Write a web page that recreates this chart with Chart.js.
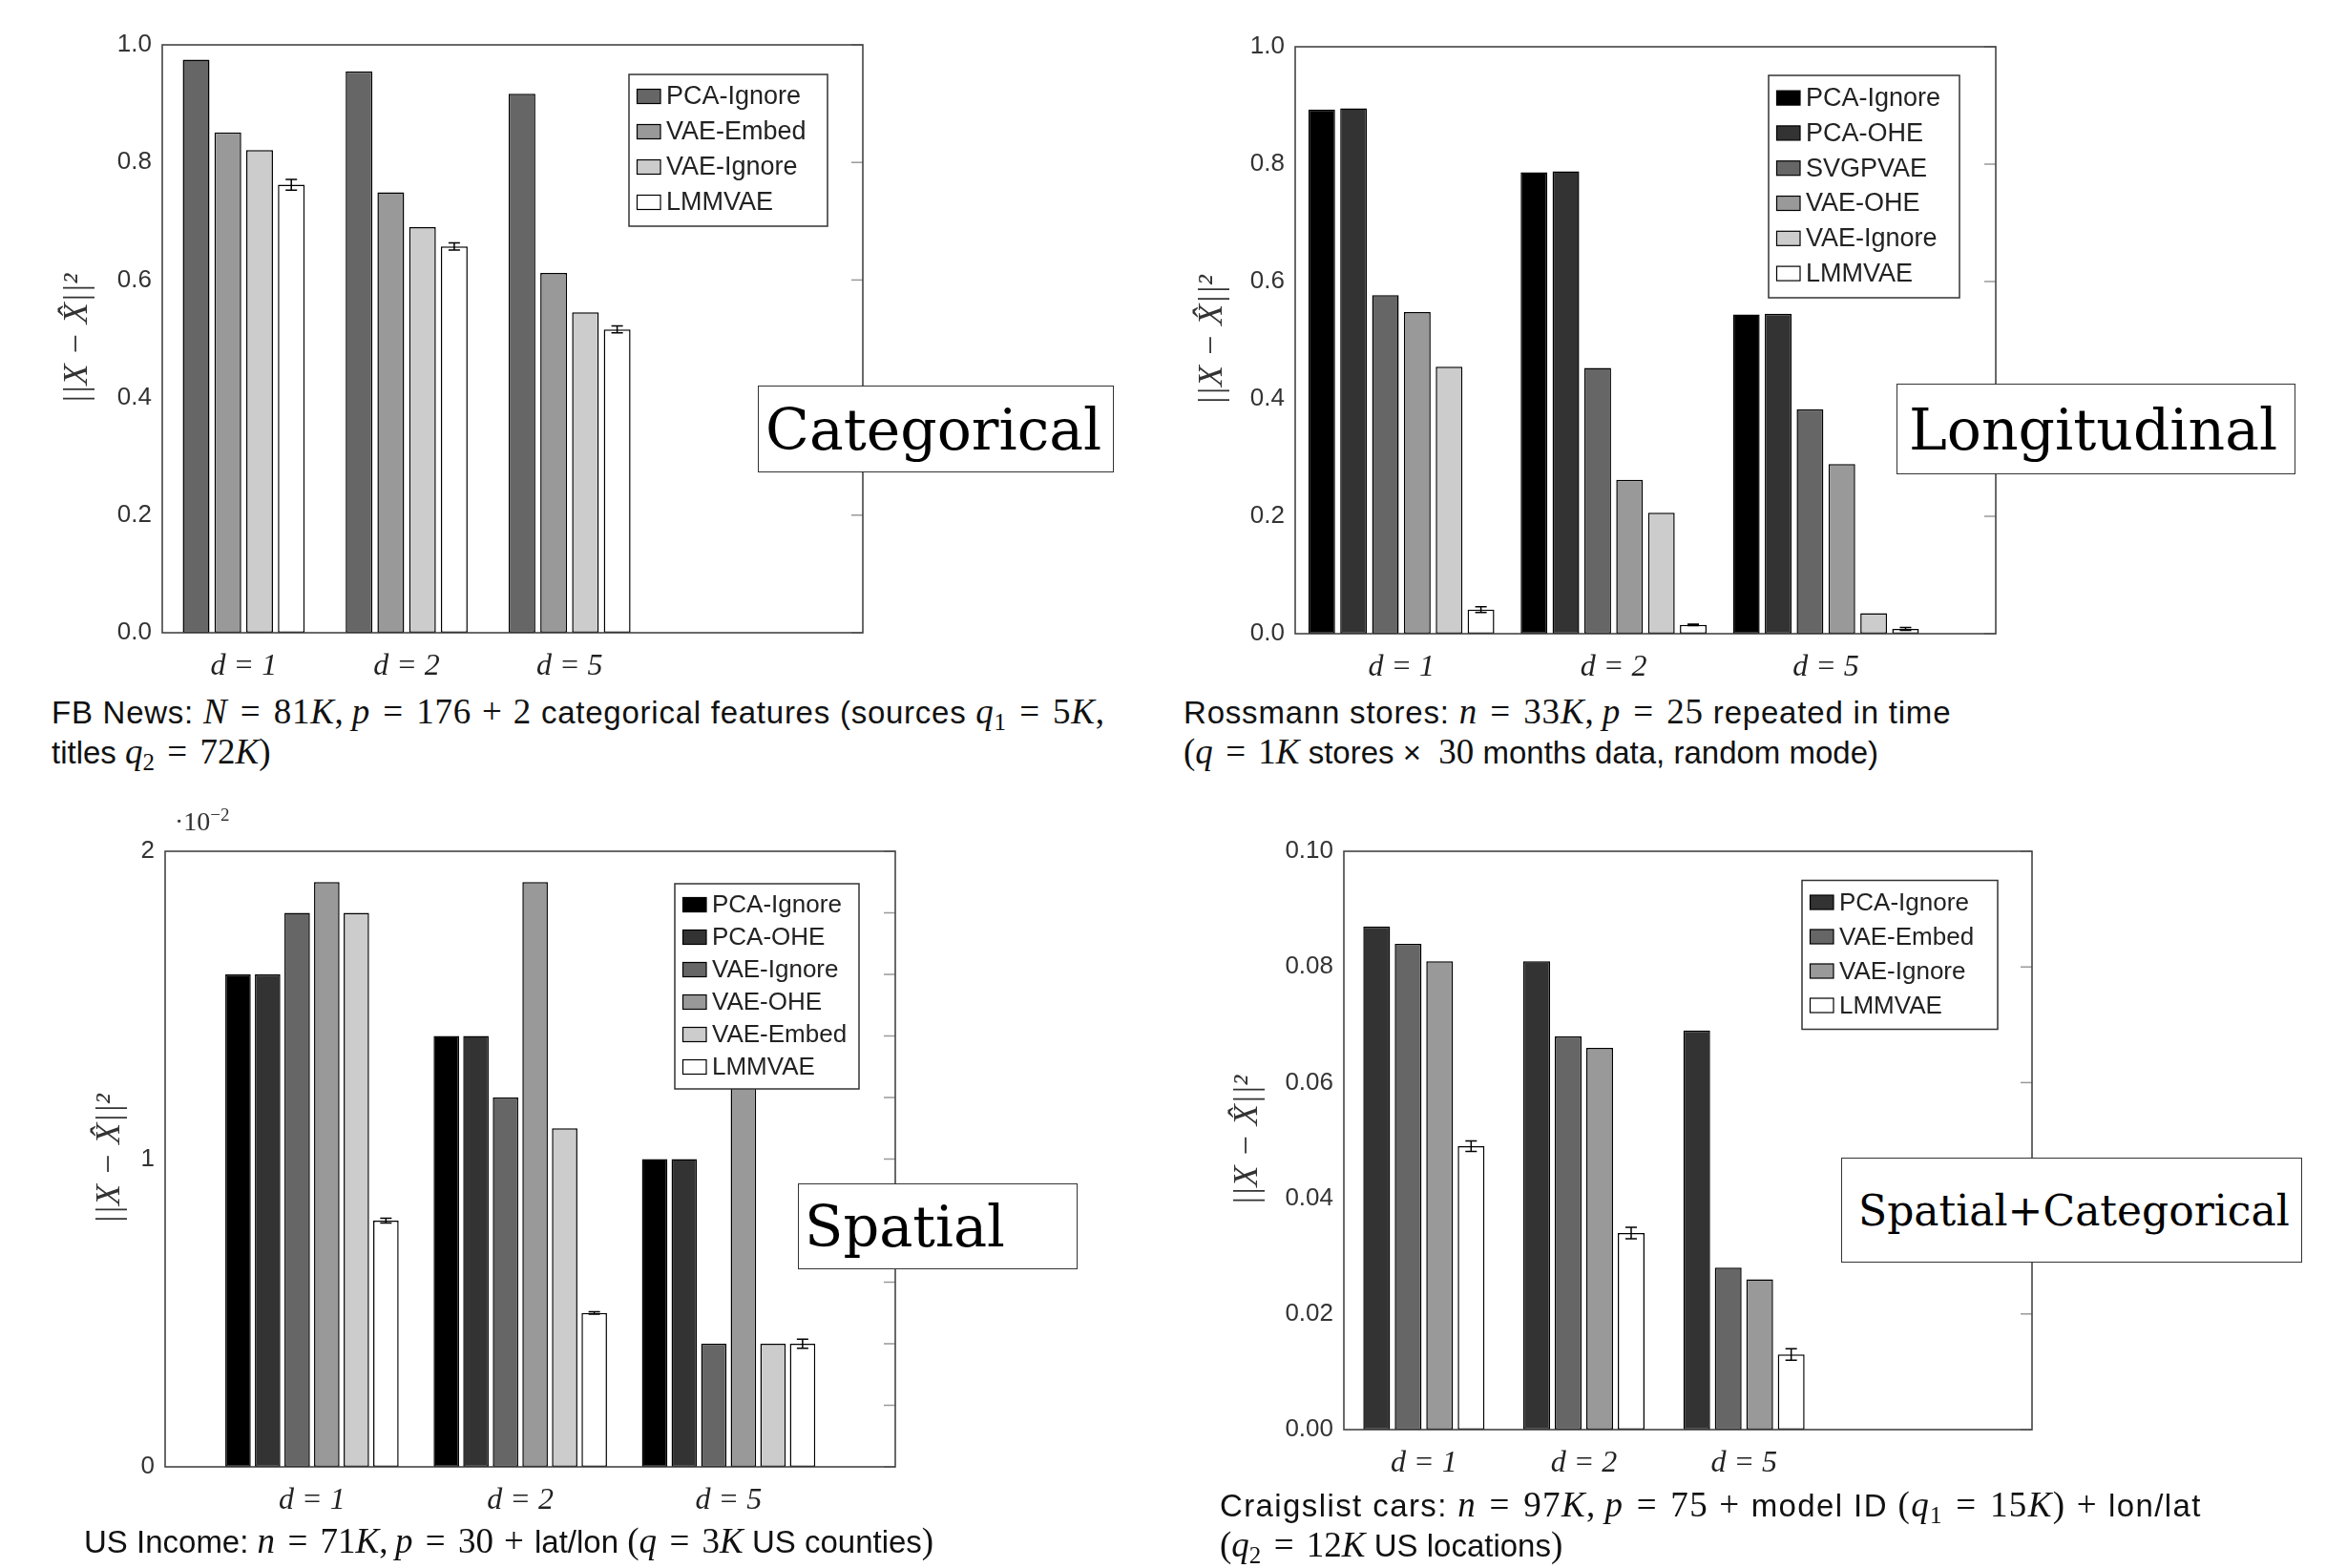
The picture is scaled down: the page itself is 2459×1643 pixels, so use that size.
<!DOCTYPE html>
<html>
<head>
<meta charset="utf-8">
<script src="https://cdn.jsdelivr.net/npm/chart.js@4.4.0/dist/chart.umd.min.js"></script>
<style>
body { margin: 0; background: #fff; width: 2459px; height: 1643px; position: relative; overflow: hidden; font-family: "Liberation Sans", Arial, sans-serif; }
.panel { position: absolute; }
.tag { position: absolute; background: #fff; border: 1.5px solid #333; box-sizing: border-box; font-family: "DejaVu Serif", serif; color: #000; display: flex; align-items: center; white-space: nowrap; }
.cap { position: absolute; font-size: 33px; line-height: 40.5px; color: #111; white-space: nowrap; }
.m { font-family: "Liberation Serif", serif; font-size: 37px; }
.m sub { font-size: 25px; line-height: 0; vertical-align: -7px; font-style: normal; }
.o { margin: 0 0.36em; }
.p { margin: 0 0.3em; }
.exp { position: absolute; font-family: "Liberation Serif", serif; font-size: 28px; color: #333; }
.exp sup { font-size: 19px; }
</style>
</head>
<body>
<div class="tag" style="left:794px;top:404px;width:373px;height:91px;font-size:60px;padding-left:7px;">Categorical</div>
<div class="tag" style="left:1987px;top:402px;width:418px;height:95px;font-size:60px;padding-left:12px;">Longitudinal</div>
<div class="tag" style="left:836px;top:1240px;width:293px;height:90px;font-size:59px;padding-left:6px;">Spatial</div>
<div class="tag" style="left:1929px;top:1213px;width:483px;height:110px;font-size:44px;padding-left:17px;">Spatial+Categorical</div>

<div class="exp" style="left:183px;top:843px;">·10<sup>−2</sup></div>

<div class="cap" style="left:54px;top:726px;"><span style="letter-spacing:0.75px;">FB News: <span class="m"><i>N</i><span class="o">=</span>81<i>K</i>,&thinsp;<i>p</i><span class="o">=</span>176<span class="p">+</span>2</span> categorical features (sources <span class="m"><i>q</i><sub>1</sub><span class="o">=</span>5<i>K</i>,</span></span><br>titles <span class="m"><i>q</i><sub>2</sub><span class="o">=</span>72<i>K</i>)</span></div>
<div class="cap" style="left:1240px;top:726px;"><span style="letter-spacing:0.8px;">Rossmann stores: <span class="m"><i>n</i><span class="o">=</span>33<i>K</i>,&thinsp;<i>p</i><span class="o">=</span>25</span> repeated in time</span><br><span class="m">(<i>q</i><span class="o">=</span>1<i>K</i></span> stores × &nbsp;<span class="m">30</span> months data, random mode)</div>
<div class="cap" style="left:88px;top:1595px;">US Income: <span class="m"><i>n</i><span class="o">=</span>71<i>K</i>,&thinsp;<i>p</i><span class="o">=</span>30<span class="p">+</span></span>lat/lon <span class="m">(<i>q</i><span class="o">=</span>3<i>K</i></span> US counties<span class="m">)</span></div>
<div class="cap" style="left:1278px;top:1557px;"><span style="letter-spacing:1.4px;">Craigslist cars: <span class="m"><i>n</i><span class="o">=</span>97<i>K</i>,&thinsp;<i>p</i><span class="o">=</span>75<span class="p">+</span></span>model ID <span class="m">(<i>q</i><sub>1</sub><span class="o">=</span>15<i>K</i>)<span class="p">+</span></span>lon/lat</span><br><span class="m">(<i>q</i><sub>2</sub><span class="o">=</span>12<i>K</i></span> US locations<span class="m">)</span></div>

<script>
// x categories, shared by all four panels
var groups = ['d = 1', 'd = 2', 'd = 5'];

// Categorical: FB News
var catMethods = ['PCA-Ignore', 'VAE-Embed', 'VAE-Ignore', 'LMMVAE'];
var catPcaIgnore = [0.975, 0.955, 0.917];
var catVaeEmbed = [0.851, 0.749, 0.612];
var catVaeIgnore = [0.821, 0.690, 0.545];
var catLmmvae = [0.762, 0.657, 0.516];
var catLmmvaeErr = [0.009, 0.006, 0.006];

// Longitudinal: Rossmann stores
var lonMethods = ['PCA-Ignore', 'PCA-OHE', 'SVGPVAE', 'VAE-OHE', 'VAE-Ignore', 'LMMVAE'];
var lonPcaIgnore = [0.893, 0.786, 0.544];
var lonPcaOhe = [0.895, 0.788, 0.545];
var lonSvgpvae = [0.577, 0.453, 0.382];
var lonVaeOhe = [0.548, 0.262, 0.289];
var lonVaeIgnore = [0.455, 0.206, 0.035];
var lonLmmvae = [0.041, 0.015, 0.008];
var lonLmmvaeErr = [0.005, 0.0013, 0.0025];

// Spatial: US Income (values in units of 10^-2)
var spaMethods = ['PCA-Ignore', 'PCA-OHE', 'VAE-Ignore', 'VAE-OHE', 'VAE-Embed', 'LMMVAE'];
var spaPcaIgnore = [1.6, 1.4, 1.0];
var spaPcaOhe = [1.6, 1.4, 1.0];
var spaVaeIgnore = [1.8, 1.2, 0.4];
var spaVaeOhe = [1.9, 1.9, 1.5];
var spaVaeEmbed = [1.8, 1.1, 0.4];
var spaLmmvae = [0.8, 0.5, 0.4];
var spaLmmvaeErr = [0.008, 0.004, 0.015];

// Spatial+Categorical: Craigslist cars
var scMethods = ['PCA-Ignore', 'VAE-Embed', 'VAE-Ignore', 'LMMVAE'];
var scPcaIgnore = [0.087, 0.081, 0.069];
var scVaeEmbed = [0.084, 0.068, 0.028];
var scVaeIgnore = [0.081, 0.066, 0.026];
var scLmmvae = [0.049, 0.034, 0.013];
var scLmmvaeErr = [0.0009, 0.001, 0.001];

var Y_W = 130, TOP_PAD = 40, RIGHT_PAD = 12, X_H = 60;

// frame, inward ticks on the right, error bars and the boxed legend
var decorPlugin = {
    id: 'decor',
    afterDatasetsDraw: function (chart) {
        var p = chart.options.plugins.decor;
        var ctx = chart.ctx, a = chart.chartArea, ys = chart.scales.y;
        ctx.save();
        // right side ticks
        ctx.strokeStyle = '#999';
        ctx.lineWidth = 1.5;
        ys.ticks.forEach(function (t) {
            var y = ys.getPixelForValue(t.value);
            ctx.beginPath();
            ctx.moveTo(a.right, y);
            ctx.lineTo(a.right - 12, y);
            ctx.stroke();
        });
        // frame
        ctx.strokeStyle = '#444';
        ctx.lineWidth = 1.6;
        ctx.strokeRect(a.left, a.top, a.right - a.left, a.bottom - a.top);
        // error bars on the last series
        var last = chart.data.datasets.length - 1;
        var meta = chart.getDatasetMeta(last);
        ctx.strokeStyle = '#000';
        ctx.lineWidth = 1.5;
        meta.data.forEach(function (bar, j) {
            var v = p.values[j], e = p.err[j];
            var y1 = ys.getPixelForValue(v - e), y2 = ys.getPixelForValue(v + e);
            ctx.beginPath();
            ctx.moveTo(bar.x, y1); ctx.lineTo(bar.x, y2);
            ctx.moveTo(bar.x - 6, y1); ctx.lineTo(bar.x + 6, y1);
            ctx.moveTo(bar.x - 6, y2); ctx.lineTo(bar.x + 6, y2);
            ctx.stroke();
        });
        ctx.restore();
    },
    afterDraw: function (chart) {
        var p = chart.options.plugins.decor, L = p.legend;
        var ctx = chart.ctx, a = chart.chartArea;
        var lx = a.right - L.right - L.w, ly = a.top + L.top;
        ctx.save();
        ctx.fillStyle = '#fff';
        ctx.fillRect(lx, ly, L.w, L.h);
        ctx.strokeStyle = '#333';
        ctx.lineWidth = 1.5;
        ctx.strokeRect(lx, ly, L.w, L.h);
        ctx.font = L.font + 'px "Liberation Sans", Arial, sans-serif';
        ctx.textBaseline = 'middle';
        chart.data.datasets.forEach(function (ds, i) {
            var cy = ly + L.first + i * L.pitch;
            ctx.fillStyle = ds.backgroundColor;
            ctx.fillRect(lx + 8.5, cy - 7.5, 24.5, 15);
            ctx.strokeStyle = '#000';
            ctx.lineWidth = 1.2;
            ctx.strokeRect(lx + 8.5, cy - 7.5, 24.5, 15);
            ctx.fillStyle = '#222';
            ctx.fillText(ds.label, lx + 39, cy + 1);
        });
        ctx.restore();
    }
};

function makePanel(p) {
    var w = p.area[2] - p.area[0] + Y_W + RIGHT_PAD;
    var h = p.area[3] - p.area[1] + TOP_PAD + X_H;
    var div = document.createElement('div');
    div.className = 'panel';
    div.style.left = (p.area[0] - Y_W) + 'px';
    div.style.top = (p.area[1] - TOP_PAD) + 'px';
    var cv = document.createElement('canvas');
    cv.width = w;
    cv.height = h;
    div.appendChild(cv);
    document.body.insertBefore(div, document.body.firstChild);

    var datasets = p.series.map(function (s, i) {
        return {
            label: p.methods[i],
            data: s.map(function (v, j) { return { x: j, y: v }; }),
            backgroundColor: p.colors[i],
            borderColor: '#000',
            borderWidth: 1.5,
            borderSkipped: false,
            categoryPercentage: p.catPct,
            barPercentage: p.barPct
        };
    });

    new Chart(cv, {
        type: 'bar',
        data: { datasets: datasets },
        plugins: [decorPlugin],
        options: {
            responsive: false,
            animation: false,
            layout: { padding: { left: 0, top: TOP_PAD, right: RIGHT_PAD, bottom: 0 } },
            plugins: {
                legend: { display: false },
                tooltip: { enabled: false },
                decor: { values: p.series[p.series.length - 1], err: p.err, legend: p.legend }
            },
            scales: {
                x: {
                    type: 'linear',
                    min: p.xMin,
                    max: p.xMax,
                    offset: false,
                    grid: { display: false, drawTicks: false },
                    border: { display: false },
                    afterBuildTicks: function (s) {
                        s.ticks = groups.map(function (g, i) { return { value: i }; });
                    },
                    ticks: {
                        autoSkip: false,
                        maxRotation: 0,
                        padding: 16,
                        color: '#222',
                        font: { family: '"Liberation Serif", serif', style: 'italic', size: 32 },
                        callback: function (v) { return groups[v]; }
                    },
                    afterFit: function (s) { s.height = X_H; }
                },
                y: {
                    min: 0,
                    max: p.yMax,
                    grid: { display: false, drawTicks: false },
                    border: { display: false },
                    ticks: {
                        stepSize: p.yStep,
                        padding: 11,
                        color: '#333',
                        font: { family: '"Liberation Sans", Arial, sans-serif', size: 26 },
                        callback: p.yLabel
                    },
                    title: {
                        display: true,
                        text: '||X − X\u0302||²',
                        color: '#333',
                        font: { family: '"Liberation Serif", serif', style: 'italic', size: 36 },
                        padding: { top: Y_W - p.titleOff - 21.6, bottom: 0 }
                    },
                    afterFit: function (s) { s.width = Y_W; }
                }
            }
        }
    });
}

var grey4 = ['#666666', '#999999', '#cccccc', '#ffffff'];
var grey6 = ['#000000', '#333333', '#666666', '#999999', '#cccccc', '#ffffff'];

makePanel({
    area: [170, 47, 904, 663],
    methods: catMethods,
    series: [catPcaIgnore, catVaeEmbed, catVaeIgnore, catLmmvae],
    err: catLmmvaeErr,
    colors: grey4,
    xMin: -0.5, xMax: 3.8, catPct: 0.779, barPct: 0.843,
    yMax: 1, yStep: 0.2,
    yLabel: function (v) { return v.toFixed(1); },
    titleOff: 88,
    legend: { w: 208, h: 159, right: 37, top: 31, first: 23, pitch: 37, font: 27 }
});

makePanel({
    area: [1356.5, 49, 2091, 664],
    methods: lonMethods,
    series: [lonPcaIgnore, lonPcaOhe, lonSvgpvae, lonVaeOhe, lonVaeIgnore, lonLmmvae],
    err: lonLmmvaeErr,
    colors: grey6,
    xMin: -0.5, xMax: 2.8, catPct: 0.9, barPct: 0.838,
    yMax: 1, yStep: 0.2,
    yLabel: function (v) { return v.toFixed(1); },
    titleOff: 86,
    legend: { w: 200, h: 233, right: 38, top: 30, first: 23.6, pitch: 36.8, font: 27 }
});

makePanel({
    area: [172.8, 891.5, 938, 1537],
    methods: spaMethods,
    series: [spaPcaIgnore, spaPcaOhe, spaVaeIgnore, spaVaeOhe, spaVaeEmbed, spaLmmvae],
    err: spaLmmvaeErr,
    colors: grey6,
    xMin: -0.705, xMax: 2.8, catPct: 0.852, barPct: 0.86,
    yMax: 2, yStep: 0.2,
    yLabel: function (v) { return Math.abs(v - Math.round(v)) < 1e-6 ? String(Math.round(v)) : ''; },
    titleOff: 57,
    legend: { w: 193, h: 215, right: 38, top: 34, first: 22, pitch: 34, font: 26 }
});

makePanel({
    area: [1408, 891.5, 2129, 1497.7],
    methods: scMethods,
    series: [scPcaIgnore, scVaeEmbed, scVaeIgnore, scLmmvae],
    err: scLmmvaeErr,
    colors: ['#333333', '#666666', '#999999', '#ffffff'],
    xMin: -0.5, xMax: 3.8, catPct: 0.787, barPct: 0.85,
    yMax: 0.1, yStep: 0.02,
    yLabel: function (v) { return v.toFixed(2); },
    titleOff: 100,
    legend: { w: 205, h: 156, right: 36, top: 30.5, first: 23, pitch: 36, font: 26 }
});
</script>
</body>
</html>
